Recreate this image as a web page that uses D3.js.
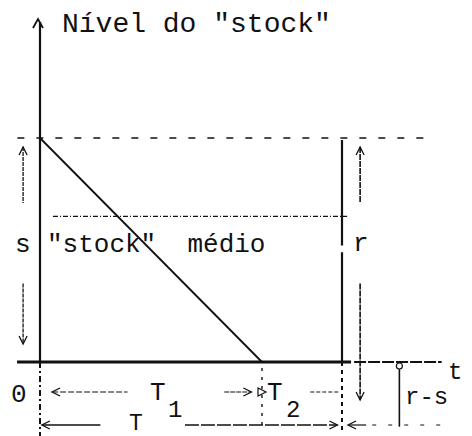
<!DOCTYPE html>
<html>
<head>
<meta charset="utf-8">
<script src="https://cdn.jsdelivr.net/npm/d3@7"></script>
<style>
  body { margin: 0; background: #fff; }
  text { font-family: "Liberation Mono", "DejaVu Sans Mono", monospace; fill: #111; }
</style>
</head>
<body>
<script>
// data: one replenishment cycle, time as fraction of T, level as fraction of s
var CYCLE_NAMES = ["0", "T1", "T"];
var CYCLE_TIMES = [0, 0.735, 1];
var LEVEL_NAMES = ["s", "médio", "0", "r-s"];
var LEVEL_VALUES = [1, 0.65, 0, -0.28];
var TITLE = 'Nível do "stock"';
var AVG_LABEL = '"stock"  médio';

var W = 472, H = 436;

var svg = d3.select("body").append("svg")
    .attr("width", W)
    .attr("height", H);

// scales
var xScale = d3.scaleLinear().domain([0, 1]).range([40, 342]);
var yScale = d3.scaleLinear().domain([0, 1]).range([362, 138]);

var t1 = CYCLE_TIMES[1], tEnd = CYCLE_TIMES[2];
var s = LEVEL_VALUES[0], avg = LEVEL_VALUES[1], short = LEVEL_VALUES[3];

var ink = "#111";

function seg(x1, y1, x2, y2, width, dash) {
    var l = svg.append("line")
        .attr("x1", x1).attr("y1", y1)
        .attr("x2", x2).attr("y2", y2)
        .attr("stroke", ink)
        .attr("stroke-width", width);
    if (dash) l.attr("stroke-dasharray", dash);
    return l;
}

// open chevron arrowhead, tip at (x,y), dir: up/down/left/right
function head(x, y, dir) {
    var a = 8, b = 4, p;
    if (dir === "up") p = [[x - b, y + a], [x, y], [x + b, y + a]];
    if (dir === "down") p = [[x - b, y - a], [x, y], [x + b, y - a]];
    if (dir === "left") p = [[x + a, y - b], [x, y], [x + a, y + b]];
    if (dir === "right") p = [[x - a, y - b], [x, y], [x - a, y + b]];
    svg.append("path")
        .attr("d", d3.line()(p))
        .attr("fill", "none")
        .attr("stroke", ink)
        .attr("stroke-width", 1.3);
}

function label(x, y, size, txt) {
    return svg.append("text")
        .attr("x", x).attr("y", y)
        .attr("font-size", size)
        .style("white-space", "pre")
        .text(txt);
}

// y axis
seg(xScale(0), 22, xScale(0), yScale(0), 2.2);
seg(xScale(0), yScale(0), xScale(0), H, 2, "6,3,2,3");
svg.append("path")
    .attr("d", d3.line()([[33, 28], [38, 19], [43, 28]]))
    .attr("fill", "none").attr("stroke", ink).attr("stroke-width", 1.8);

label(62, 32, 28, TITLE);

// top level s
seg(xScale(-0.075), yScale(s), xScale(1.28), yScale(s), 1.6, "7,12");

// average level
seg(xScale(0.043), yScale(avg), xScale(1.017), yScale(avg), 1.2, "5,2,1,2");

// stock depletion line
var line = d3.line()
    .x(function (d) { return xScale(d[0]); })
    .y(function (d) { return yScale(d[1]); });
svg.append("path")
    .datum([[CYCLE_TIMES[0], s], [t1, LEVEL_VALUES[2]]])
    .attr("d", line)
    .attr("fill", "none")
    .attr("stroke", ink)
    .attr("stroke-width", 1.8);

// time axis
seg(xScale(-0.076), yScale(0), xScale(1.03), yScale(0), 3);
seg(xScale(1.04), yScale(0), xScale(1.33), yScale(0), 2, "12,2");

// end of cycle vertical
seg(xScale(tEnd), yScale(s) + 2, xScale(tEnd), yScale(0.52), 2.2);
seg(xScale(tEnd), yScale(0.49), xScale(tEnd), yScale(0), 2.2);
seg(xScale(tEnd), yScale(0), xScale(tEnd), yScale(short) + 8, 2, "4,4");

// T1 divider
seg(xScale(t1), yScale(0) + 6, xScale(t1), yScale(short) + 6, 1.4, "3,6");

// s and r double arrows
var xS = xScale(-0.056), xR = xScale(1.06);
seg(xS, yScale(0.96), xS, yScale(0.71), 1.3, "4,1");
head(xS, yScale(0.96), "up");
seg(xS, yScale(0.35), xS, yScale(0.08), 1.3, "4,1");
head(xS, yScale(0.08), "down");

seg(xR, yScale(0.96), xR, yScale(0.71), 1.6, "6,1");
head(xR, yScale(0.96), "up");
seg(xR, yScale(0.35), xR, yScale(-0.17), 1.6, "6,1");
head(xR, yScale(-0.17), "down");

label(15, 252, 26, LEVEL_NAMES[0]);
label(47, 252, 26, AVG_LABEL);
label(353, 251, 26, "r");

// r-s marker below the axis
var xRS = xScale(1.19);
svg.append("circle").attr("cx", xRS).attr("cy", yScale(0) + 4).attr("r", 3)
    .attr("fill", "none").attr("stroke", ink).attr("stroke-width", 1.2);
seg(xRS, yScale(0) + 7, xRS, yScale(short) + 2, 1.6);
label(405, 404, 24, LEVEL_NAMES[3]);
label(448, 379, 24, "t");

// time labels
var row1 = 392, row2 = 425;
label(11, 402, 26, CYCLE_NAMES[0]);

seg(xScale(0.04), row1, xScale(0.29), row1, 1.2, "6,2");
head(xScale(0.04), row1, "left");
label(150, 400, 26, "T");
label(168, 417, 24, "1");

seg(xScale(0.61), row1, xScale(0.70), row1, 1.2, "5,1");
head(xScale(0.70), row1, "right");
svg.append("path")
    .attr("d", d3.line()([[258, row1 - 4], [266, row1], [258, row1 + 4]]) + "Z")
    .attr("fill", "none").attr("stroke", ink).attr("stroke-width", 1.2);
label(267, 400, 26, "T");
label(286, 417, 24, "2");
seg(xScale(0.895), row1, xScale(0.99), row1, 1.2, "4,2");

seg(xScale(0.006), row2, xScale(0.2), row2, 1.6);
head(xScale(0.006), row2, "left");
label(129, 430, 23, CYCLE_NAMES[2]);
seg(xScale(0.48), row2, xScale(0.985), row2, 1.3, "14,2");
head(xScale(0.985), row2, "right");
seg(xScale(1.02), row2, xScale(1.08), row2, 1.2);
head(xScale(1.02), row2, "left");
seg(xScale(1.1), row2, xScale(1.33), row2, 1.2, "4,12");
</script>
</body>
</html>
